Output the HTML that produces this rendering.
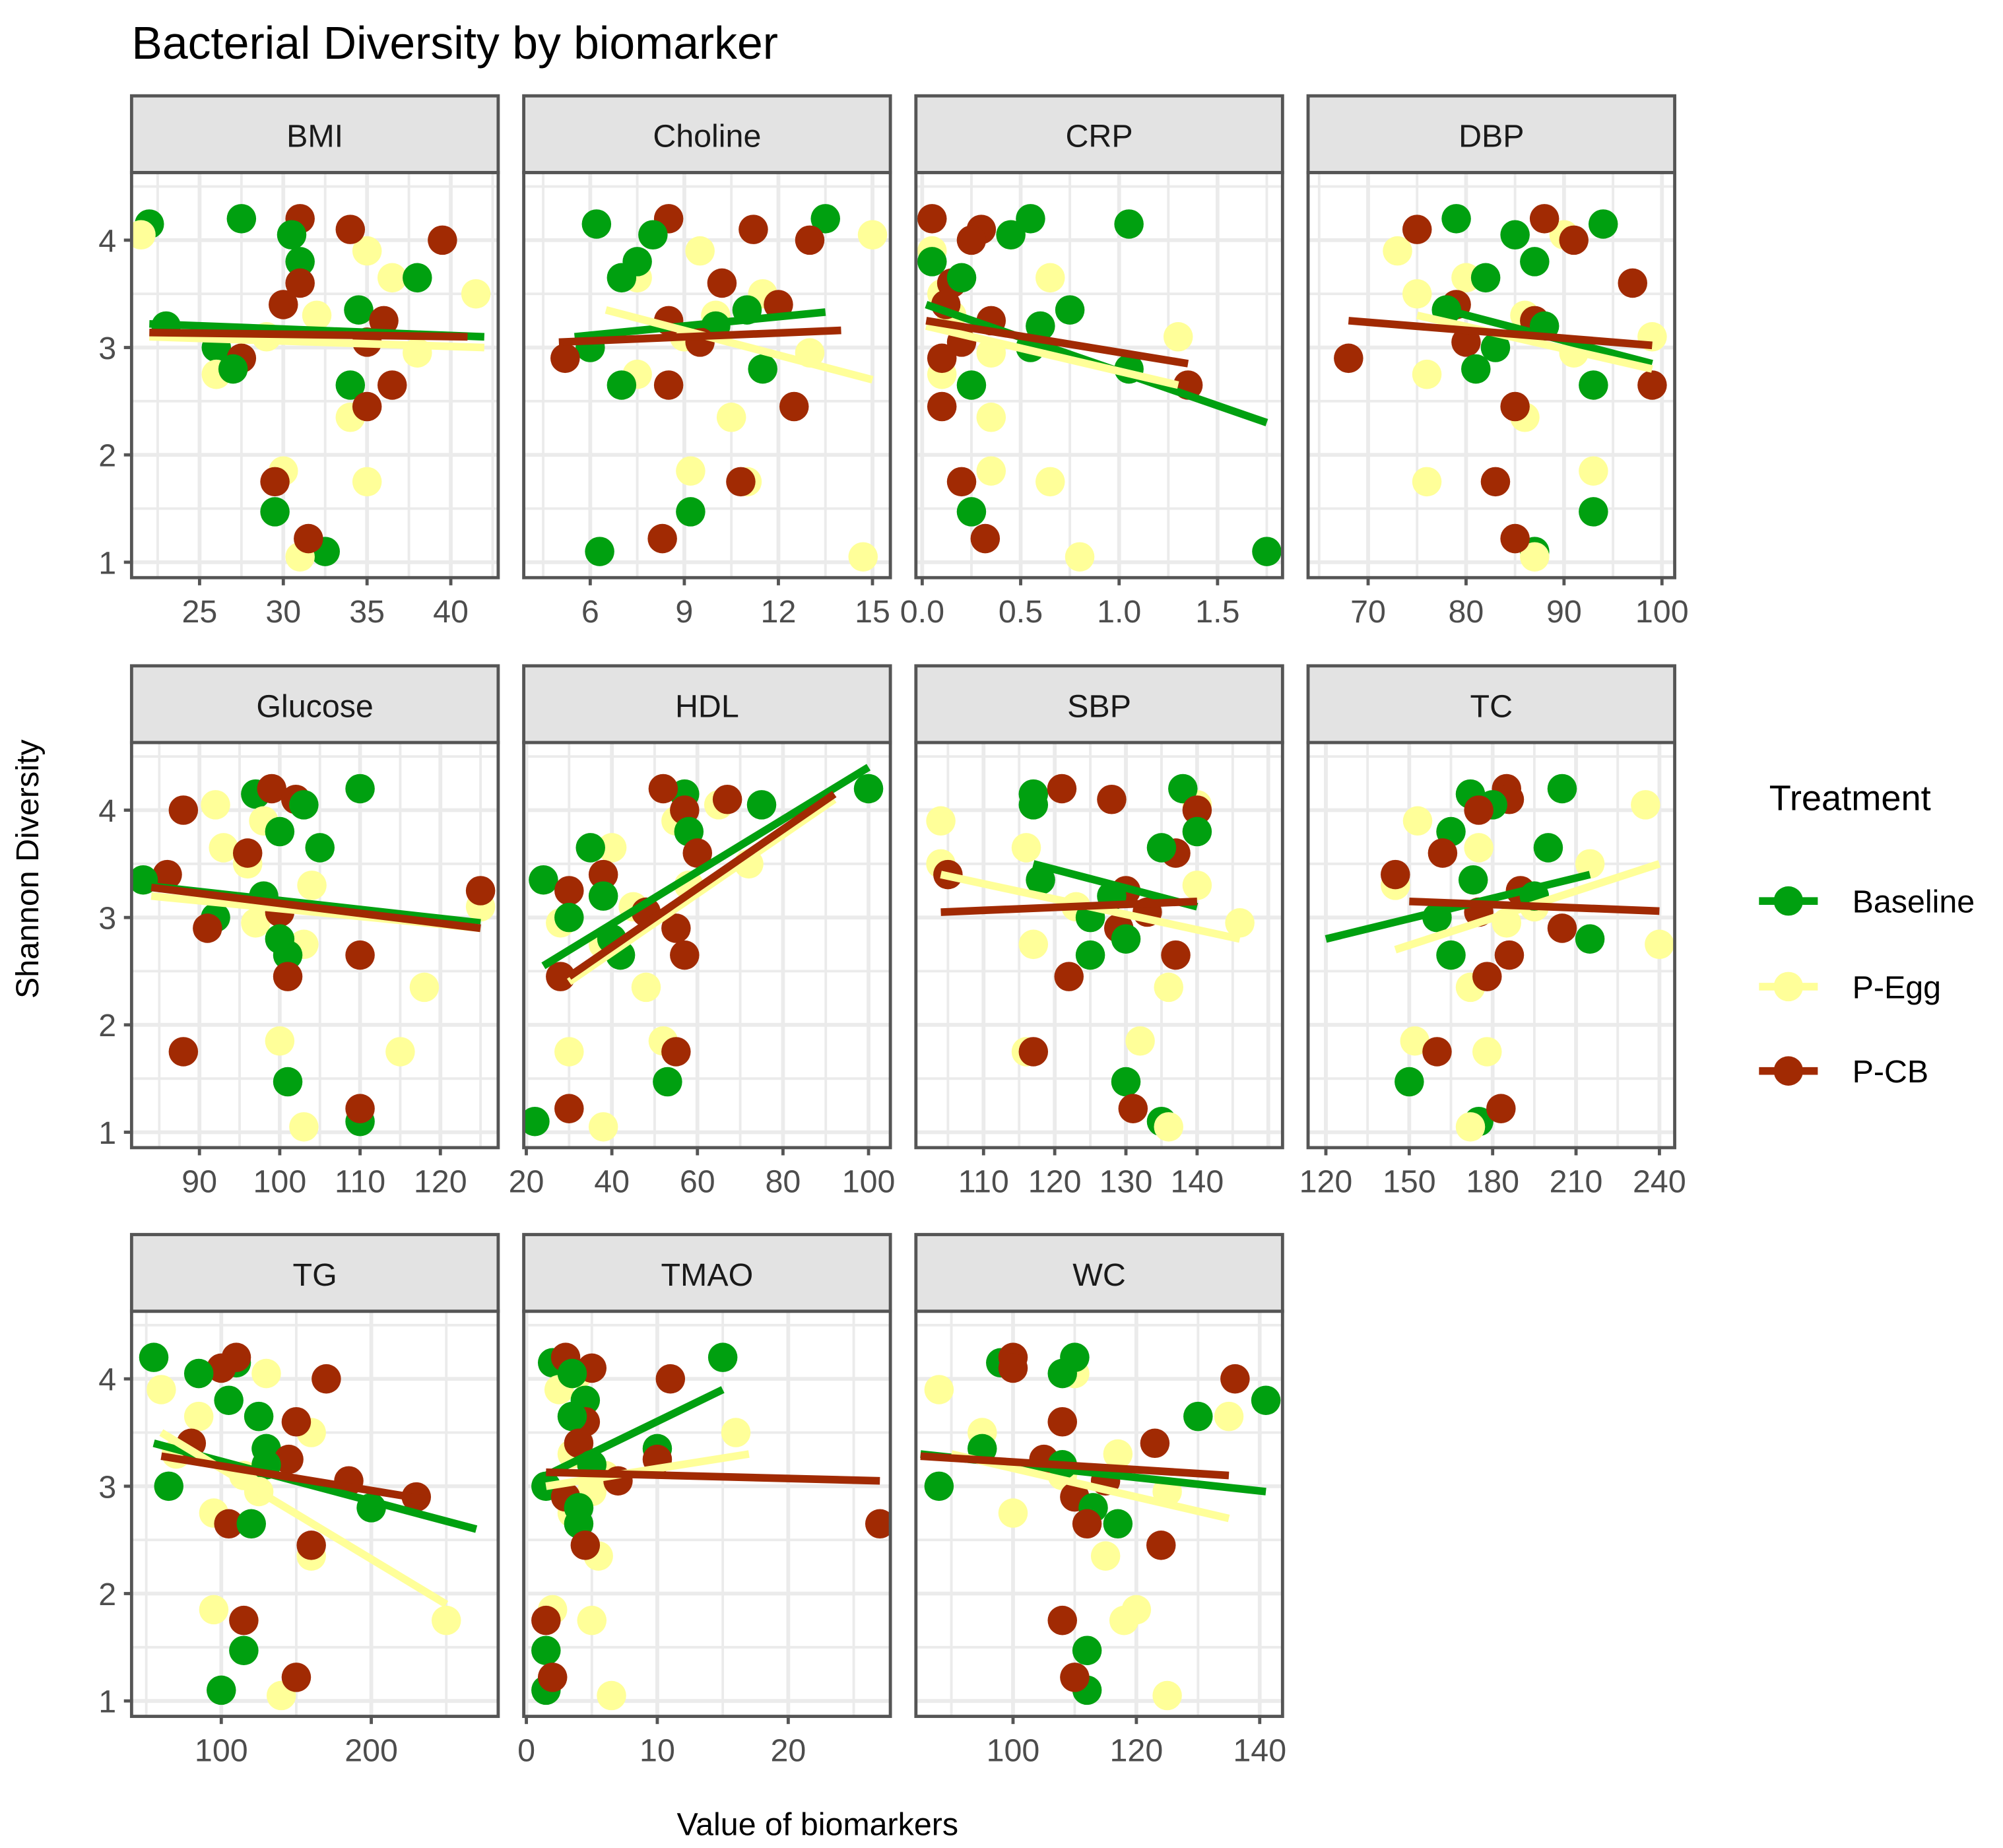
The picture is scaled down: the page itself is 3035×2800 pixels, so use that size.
<!DOCTYPE html>
<html><head><meta charset="utf-8"><style>
html,body{margin:0;padding:0;background:#fff;}
svg{display:block;}
text{font-family:"Liberation Sans",sans-serif;}
</style></head>
<body>
<svg id="chart" xmlns="http://www.w3.org/2000/svg" width="3035" height="2800" viewBox="0 0 1568 1446" preserveAspectRatio="none">
<rect width="1568" height="1446" fill="#fff"/>
<text x="103" y="46" font-size="36" fill="#000">Bacterial Diversity by biomarker</text>
<text transform="translate(30,680) rotate(-90)" text-anchor="middle" font-size="25" fill="#000">Shannon Diversity</text>
<text x="640" y="1436" text-anchor="middle" font-size="25" fill="#000">Value of biomarkers</text>
<g id="panels"></g>
<g id="legend">
<text x="1385" y="634" font-size="28" fill="#000">Treatment</text>
</g>
</svg>
<script>
const panelNames = ["BMI","Choline","CRP","DBP","Glucose","HDL","SBP","TC","TG","TMAO","WC"];
const treatments = ["Baseline","P-Egg","P-CB"];
const colors = ["#00A010","#FFFF99","#A12A03"];
const yBaseline = [4.15,4.2,4.05,3.8,3.65,3.35,3.2,3.0,2.8,2.65,1.47,1.1];
const yEgg = [4.05,3.9,3.65,3.5,3.3,3.1,2.95,2.75,2.35,1.85,1.75,1.05];
const yCB = [4.2,4.1,4.0,3.6,3.4,3.25,3.05,2.9,2.65,2.45,1.75,1.22];
const yTicks = [1,2,3,4];
const xDomains = [[20.94,42.83],[3.88,15.57],[-0.032,1.83],[63.87,101.3],[81.55,127.2],[19.4,105.1],[100.5,152],[113.6,245.5],[40.2,284.6],[-0.2,27.8],[84.25,143.7]];
const xTicks = [[25,30,35,40],[6,9,12,15],[0,0.5,1,1.5],[70,80,90,100],[90,100,110,120],[20,40,60,80,100],[110,120,130,140],[120,150,180,210,240],[100,200],[0,10,20],[100,120,140]];
const xTickLabels = [["25","30","35","40"],["6","9","12","15"],["0.0","0.5","1.0","1.5"],["70","80","90","100"],["90","100","110","120"],["20","40","60","80","100"],["110","120","130","140"],["120","150","180","210","240"],["100","200"],["0","10","20"],["100","120","140"]];
const xBaseline = [
[22,27.5,30.5,31,38,34.5,23,26,27,34,29.5,32.5],
[6.2,13.5,8,7.5,7,11,10,6,11.5,7,9.2,6.3],
[1.05,0.55,0.45,0.05,0.2,0.75,0.6,0.55,1.05,0.25,0.25,1.75],
[94,79,85,87,82,78,88,83,81,93,93,87],
[97,110,103,100,105,83,98,92,100,101,101,110],
[57,100,75,58,35,24,38,30,40,42,53,22],
[117,138,117,140,135,118,128,125,130,125,130,135],
[172,205,180,165,200,173,195,160,215,165,150,175],
[110,55,85,105,125,130,130,65,200,120,115,100],
[2,15,3.5,4.5,3.5,10,5,1.5,4,4,1.5,1.5],
[98,110,108,141,130,95,108,88,113,117,112,112]];
const xEgg = [
[21.5,35,36.5,41.5,32,29,38,26,34,30,35,31],
[15,9.5,7.5,11.5,10,9,13,7.5,10.5,9.2,11,14.7],
[0.45,0.05,0.65,0.1,0.15,1.3,0.35,0.1,0.35,0.35,0.65,0.8],
[90,73,80,75,86,99,91,76,86,93,76,87],
[92,98,93,96,104,125,97,103,118,100,115,103],
[65,55,40,72,58,45,28,38,48,52,30,38],
[140,104,116,104,140,123,146,117,136,132,116,136],
[235,153,175,215,145,195,185,240,172,152,178,172],
[130,60,85,160,70,115,125,95,160,95,250,140],
[4,2.5,4,16,3.5,6,5,3.5,5.5,2,5,6.5],
[110,88,135,95,117,108,125,100,115,120,118,125]];
const xCB = [
[31,34,39.5,31,30,36,35,27.5,36.5,35,29.5,31.5],
[8.5,11.2,13,10.2,12,8.5,9.5,5.2,8.5,12.5,10.8,8.3],
[0.05,0.3,0.25,0.15,0.12,0.35,0.2,0.1,1.35,0.1,0.2,0.32],
[88,75,91,97,79,87,80,68,99,85,83,85],
[99,102,88,96,86,125,100,91,110,101,88,110],
[52,67,57,60,38,30,48,55,57,28,55,30],
[121,128,140,137,105,130,133,129,137,122,117,131],
[185,186,175,162,145,190,175,205,186,178,160,183],
[110,100,170,150,80,145,185,230,105,160,115,150],
[3,5,11,4.5,4,10,7,3,27,4.5,1.5,2],
[100,100,136,108,123,105,115,110,112,124,108,110]];
const fitBaseline = [[22,3.22,42,3.1],[5.5,3.1,13.5,3.33],[0.02,3.4,1.75,2.3],[78,3.35,99,2.85],[83,3.3,125,2.95],[24,2.55,100,4.4],[117,3.5,140,3.1],[120,2.8,215,3.4],[55,3.4,270,2.6],[1.5,3.1,15,3.9],[85,3.3,141,2.95]];
const fitEgg = [[22,3.1,42,3.0],[6.5,3.35,15,2.7],[0.02,3.2,1.3,2.65],[75,3.3,99,2.8],[84,3.2,125,2.9],[30,2.4,92,4.1],[104,3.4,146,2.8],[145,2.7,240,3.5],[60,3.5,250,1.9],[1.5,3.0,17,3.3],[90,3.3,135,2.7]];
const fitCB = [[22,3.14,41,3.1],[5,3.05,14,3.16],[0.02,3.25,1.35,2.85],[68,3.25,99,3.02],[84,3.28,125,2.9],[30,2.45,92,4.15],[104,3.05,140,3.15],[150,3.15,240,3.06],[60,3.28,235,2.88],[1.5,3.13,27,3.05],[85,3.28,135,3.1]];

const NS="http://www.w3.org/2000/svg";
function mk(tag, attrs, parent){const e=document.createElementNS(NS,tag);for(const k in attrs)e.setAttribute(k,attrs[k]);parent.appendChild(e);return e;}
const colX=[103,410,717,1024], rowY=[75,521,966], PW=287, SH=60, PH=317;
const Y_MAX=4.63, Y_PER=84;
const root=document.getElementById('panels');
const ys=[yBaseline,yEgg,yCB], xs=[xBaseline,xEgg,xCB], fits=[fitBaseline,fitEgg,fitCB];
panelNames.forEach((name,i)=>{
  const c=i%4, r=Math.floor(i/4);
  const x0=colX[c], st=rowY[r], top=st+SH, bot=top+PH;
  const dom=xDomains[i];
  const X=v=>x0+(v-dom[0])/(dom[1]-dom[0])*PW;
  const Y=v=>top+(Y_MAX-v)*Y_PER;
  const g=mk('g',{},root);
  
  
  const cg=mk('clipPath',{id:'clip'+i},g);
  mk('rect',{x:x0,y:top,width:PW,height:PH},cg);
  const grid=mk('g',{'clip-path':'url(#clip'+i+')'},g);
  for(let v=0.5;v<=4.6;v+=0.5){
    const major=Number.isInteger(v);
    mk('line',{x1:x0,x2:x0+PW,y1:Y(v),y2:Y(v),stroke:'#ebebeb','stroke-width':major?3:2},grid);
  }
  const tk=xTicks[i], step=tk[1]-tk[0];
  for(let v=tk[0]-step;v<=tk[tk.length-1]+step+1e-9;v+=step/2){
    const major=Math.abs((v-tk[0])/step-Math.round((v-tk[0])/step))<1e-6;
    mk('line',{x1:X(v),x2:X(v),y1:top,y2:bot,stroke:'#ebebeb','stroke-width':major?3:2},grid);
  }
  const pts=mk('g',{'clip-path':'url(#clip'+i+')'},g);
  for(let k=0;k<12;k++){
    for(let t=0;t<3;t++){
      const cc=mk('circle',{cx:X(xs[t][i][k]),cy:Y(ys[t][k]),r:11.5,fill:colors[t]},pts);
      
      
    }
  }
  for(let t=0;t<3;t++){
    const f=fits[t][i];
    const ln=mk('line',{x1:X(f[0]),y1:Y(f[1]),x2:X(f[2]),y2:Y(f[3]),stroke:colors[t],'stroke-width':6},pts);
    
    
  }
  mk('rect',{x:x0,y:top,width:PW,height:PH,fill:'none',stroke:'#555','stroke-width':2.5},g);
  const s=mk('rect',{x:x0,y:st,width:PW,height:SH,fill:'#e3e3e3',stroke:'#555','stroke-width':2.5},g);
  
  
  const sl=mk('text',{x:x0+PW/2,y:st+40,'text-anchor':'middle','font-size':25,fill:'#1a1a1a'},g);
  sl.textContent=name;
  
  
  tk.forEach((v,j)=>{
    mk('line',{x1:X(v),x2:X(v),y1:bot,y2:bot+6,stroke:'#555','stroke-width':2.5},g);
    const tl=mk('text',{x:X(v),y:bot+35,'text-anchor':'middle','font-size':25,fill:'#4d4d4d'},g);
    tl.textContent=xTickLabels[i][j];
    
    
  });
  if(c===0){
    yTicks.forEach(v=>{
      mk('line',{x1:x0-6,x2:x0,y1:Y(v),y2:Y(v),stroke:'#555','stroke-width':2.5},g);
      const yl=mk('text',{x:x0-12,y:Y(v)+9,'text-anchor':'end','font-size':25,fill:'#4d4d4d'},g);
      yl.textContent=String(v);
      
      
    });
  }
});
const lg=document.getElementById('legend');
const legY=[705,772,838];
treatments.forEach((t,k)=>{
  const g=mk('g',{},lg);
  
  
  mk('line',{x1:1377,x2:1423,y1:legY[k],y2:legY[k],stroke:colors[k],'stroke-width':6},g);
  mk('circle',{cx:1400,cy:legY[k],r:11.5,fill:colors[k]},g);
  const tx=mk('text',{x:1450,y:legY[k]+9,'font-size':25,fill:'#000'},g);
  tx.textContent=t;
});
</script>
</body></html>
